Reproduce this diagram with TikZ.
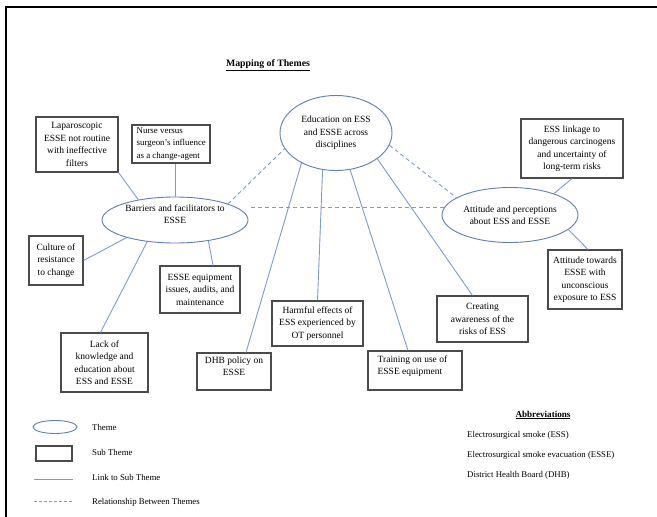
\documentclass[tikz,border=0pt]{standalone}
\usepackage{fontspec}
\setmainfont{Liberation Serif}
\usetikzlibrary{shapes.geometric,calc}
\definecolor{linkblue}{RGB}{125,155,210}
\definecolor{ellblue}{RGB}{95,125,185}
\definecolor{boxgray}{RGB}{75,75,75}
\tikzset{
  subbox/.style={draw=boxgray, line width=1.1pt, inner sep=0pt, align=center,
    font=\fontsize{9.5}{12.5}\selectfont},
  txt/.style={inner sep=0pt, align=left, font=\fontsize{9.5}{12.5}\selectfont},
  theme/.style={ellipse, draw=ellblue, line width=0.9pt, inner sep=0pt, align=center,
    font=\fontsize{9.5}{12.5}\selectfont},
  link/.style={draw=linkblue, line width=0.9pt},
  rel/.style={draw=linkblue, line width=0.9pt, dash pattern=on 4pt off 3pt},
  lbl/.style={anchor=west, inner sep=0pt, font=\fontsize{8.8}{11}\selectfont},
}
\begin{document}
\begin{tikzpicture}[x=1pt,y=-1pt]
\useasboundingbox (0,0) rectangle (657,517);
\fill[white] (0,0) rectangle (657,517);
% frame
\draw[line width=2pt] (6,517) -- (6,7) -- (657,7);

% title
\node[inner sep=0pt, font=\fontsize{9.8}{12}\selectfont\bfseries] (title) at (268,65) {\underline{Mapping of Themes}};

% themes
\node[theme, minimum width=112pt, minimum height=75pt] (edu) at (336,133) {Education on ESS\\and ESSE across\\disciplines};
\node[theme, minimum width=146pt, minimum height=46pt] (bar) at (175,220) {};
\node[txt, align=center] (bart) at (175,214) {Barriers and facilitators to\\ESSE};
\node[theme, minimum width=136pt, minimum height=55pt] (att) at (510,215) {};
\node[txt, align=center] (attt) at (510,215) {Attitude and perceptions\\about ESS and ESSE};

% sub themes
\node[subbox, minimum width=82pt, minimum height=55pt] (lap) at (77,144.5) {Laparoscopic\\ESSE not routine\\with ineffective\\filters};
\node[subbox, minimum width=78pt, minimum height=38pt] (nurse) at (171,144) {};
\node[txt, anchor=west, font=\fontsize{8.9}{12.5}\selectfont] (nurset) at ($(nurse.west)+(5,0)$) {Nurse versus\\surgeon's influence\\as a change-agent};
\node[subbox, minimum width=54pt, minimum height=49pt] (cult) at (56,260.5) {Culture of\\resistance\\to change};
\node[subbox, minimum width=80pt, minimum height=47pt] (equip) at (200,289.5) {ESSE equipment\\issues, audits, and\\maintenance};
\node[subbox, minimum width=87pt, minimum height=59pt] (lack) at (104.5,362.5) {Lack of\\knowledge and\\education about\\ESS and ESSE};
\node[subbox, minimum width=74pt, minimum height=37pt] (dhb) at (234,371.5) {};
\node[txt, align=center, anchor=north] (dhbt) at ($(dhb.north)+(0,4)$) {DHB policy on\\ESSE};
\node[subbox, minimum width=91pt, minimum height=45pt] (harm) at (317.5,323.5) {Harmful effects of\\ESS experienced by\\OT personnel};
\node[subbox, minimum width=94pt, minimum height=39pt] (train) at (415,370.5) {};
\node[txt, anchor=north west] (traint) at ($(train.north west)+(10,5)$) {Training on use of\\ESSE equipment};
\node[subbox, minimum width=91pt, minimum height=46pt] (create) at (482.5,319) {Creating\\awareness of the\\risks of ESS};
\node[subbox, minimum width=102pt, minimum height=59pt] (linkage) at (572,148.5) {ESS linkage to\\dangerous carcinogens\\and uncertainty of\\long-term risks};
\node[subbox, minimum width=74pt, minimum height=59pt] (towards) at (585,279.5) {Attitude towards\\ESSE with\\unconscious\\exposure to ESS};

% links
\draw[link] (bar.151) -- (lap.south east);
\draw[link] (bar.north) -- (bar.north |- nurse.south);
\draw[link] (bar.200) -- (cult.east);
\draw[link] (bar.328) -- ($(equip.north)+(13,0)$);
\draw[link] (bar.218) -- ($(lack.north)+(-4,0)$);
\draw[link] (edu.221) -- ($(dhb.north)+(12,0)$);
\draw[link] (edu.250) -- (harm.north);
\draw[link] (edu.291) -- ($(train.north)+(-7,0)$);
\draw[link] (edu.328) -- ($(create.north)+(-10,0)$);
\draw[link] (att.26) -- (linkage.south);
\draw[link] (att.346) -- ($(towards.north)+(3,0)$);

% relationships
\draw[rel] (bar.17) -- (edu.197);
\draw[rel] ($(bar.east |- att.173)+(3,0)$) -- (att.173);
\draw[rel] (edu.347) -- (att.162);

% legend
\node[theme, minimum width=44pt, minimum height=13pt] (legtheme) at (55,427) {};
\node[lbl] (legthemet) at (92,427) {Theme};
\node[subbox, minimum width=36pt, minimum height=15pt] (legsub) at (54,453.5) {};
\node[lbl] (legsubt) at (92,452) {Sub Theme};
\coordinate (la) at (34,479);
\coordinate (lb) at (73,479);
\draw[link] (la) -- (lb);
\node[lbl] (leglinkt) at (92,477) {Link to Sub Theme};
\coordinate (ra) at (34,501);
\coordinate (rb) at (73,501);
\draw[rel, dash pattern=on 3pt off 2pt] (ra) -- (rb);
\node[lbl] (legrelt) at (92,502) {Relationship Between Themes};

% abbreviations
\node[inner sep=0pt, font=\fontsize{9.1}{11}\selectfont\bfseries] (abbr) at (543,415) {\underline{Abbreviations}};
\node[lbl] (ab1) at (467,435) {Electrosurgical smoke (ESS)};
\node[lbl] (ab2) at (467,455) {Electrosurgical smoke evacuation (ESSE)};
\node[lbl] (ab3) at (467,475) {District Health Board (DHB)};
\end{tikzpicture}
\end{document}
